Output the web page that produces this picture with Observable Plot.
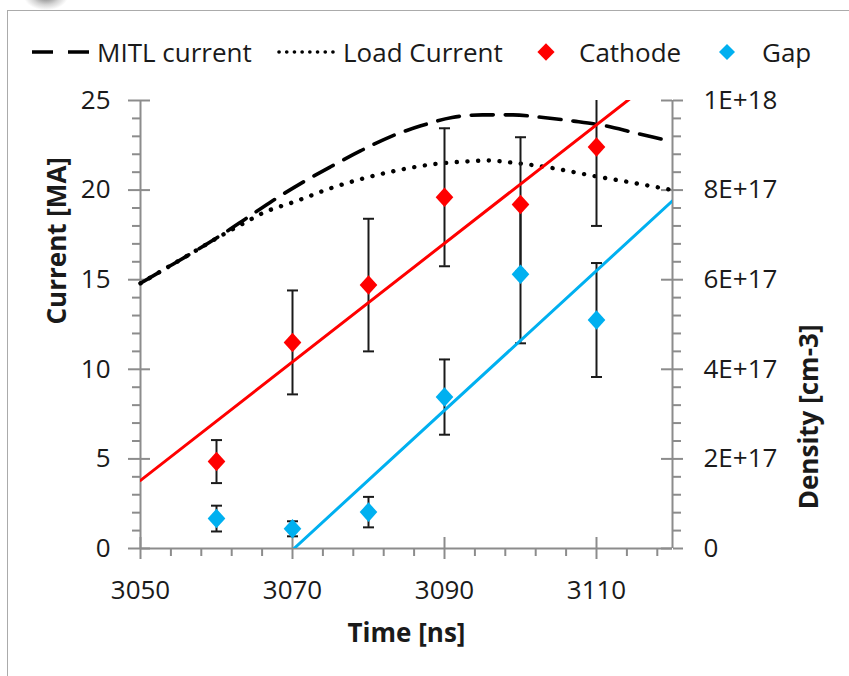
<!DOCTYPE html>
<html>
<head>
<meta charset="utf-8">
<script src="https://cdn.jsdelivr.net/npm/d3@7"></script>
<script src="https://cdn.jsdelivr.net/npm/@observablehq/plot@0.6"></script>
<style>
  html, body { margin: 0; padding: 0; background: #fff; }
  #wrap { position: relative; width: 849px; height: 676px; overflow: hidden; font-family: "Open Sans", sans-serif; }
  #frame { position: absolute; left: 7px; top: 10px; width: 900px; height: 720px; border-left: 1px solid #ababab; border-top: 1px solid #ababab; }
  #blob { position: absolute; left: 24px; top: -14px; width: 44px; height: 24px; background: radial-gradient(ellipse at 50% 40%, rgba(90,90,90,0.85) 0%, rgba(150,150,150,0.4) 45%, rgba(255,255,255,0) 72%); }
  #legend { position: absolute; left: 0; top: 0; width: 849px; height: 80px; }
  .lg { position: absolute; top: 34px; font-size: 26px; line-height: 36px; color: #1a1a1a; white-space: nowrap; }
  #legsym { position: absolute; left: 0; top: 0; }
  #chart { position: absolute; left: 0; top: 80px; }
</style>
</head>
<body>
<div id="wrap">
  <div id="blob"></div>
  <div id="frame"></div>
  <div id="legend"></div>
  <div id="chart"></div>
</div>
<script>
// ---- data ----
const legendLabels = ["MITL current", "Load Current", "Cathode", "Gap"];

const mitlTime = [3050, 3053, 3057, 3061, 3064, 3067, 3071, 3075, 3079, 3083, 3087, 3091, 3095, 3099, 3103, 3107, 3111, 3115, 3120];
const mitlCurrent = [14.8, 15.55, 16.55, 17.6, 18.45, 19.3, 20.35, 21.3, 22.2, 23.0, 23.6, 24.05, 24.2, 24.2, 24.05, 23.85, 23.6, 23.2, 22.7];

const loadTime = [3050, 3053, 3057, 3061, 3064, 3066, 3070.6, 3075, 3079.3, 3083.8, 3088.6, 3093, 3095.6, 3099.6, 3103.9, 3109.5, 3114.9, 3120];
const loadCurrent = [14.8, 15.55, 16.55, 17.55, 18.25, 18.7, 19.4, 20.1, 20.65, 21.1, 21.45, 21.6, 21.65, 21.5, 21.25, 20.8, 20.4, 20.0];

const pointTime = [3060, 3070, 3080, 3090, 3100, 3110];
const cathodeValue = [4.85, 11.5, 14.7, 19.6, 19.2, 22.4];
const cathodeError = [1.2, 2.9, 3.7, 3.85, 3.75, 4.4];
const gapValue = [1.67, 1.1, 2.03, 8.45, 15.3, 12.75];
const gapError = [0.72, 0.42, 0.85, 2.1, 3.85, 3.18];

const cathodeFitTime = [3050, 3120];
const cathodeFitValue = [3.8, 26.95];
const gapFitTime = [3070.2, 3120];
const gapFitValue = [0, 19.4];

const xMajor = [3050, 3070, 3090, 3110];
const xMinor = [3054, 3058, 3062, 3066, 3074, 3078, 3082, 3086, 3094, 3098, 3102, 3106, 3114, 3118];
const yMajor = [0, 5, 10, 15, 20, 25];
const yMinor = [1, 2, 3, 4, 6, 7, 8, 9, 11, 12, 13, 14, 16, 17, 18, 19, 21, 22, 23, 24];
const densityLabels = ["0", "2E+17", "4E+17", "6E+17", "8E+17", "1E+18"];

const xTitle = "Time [ns]";
const yTitle = "Current [MA]";
const y2Title = "Density [cm-3]";

// ---- tables ----
const mitl = mitlTime.map((t, i) => ({t, v: mitlCurrent[i]}));
const load = loadTime.map((t, i) => ({t, v: loadCurrent[i]}));
const cathode = pointTime.map((t, i) => ({t, v: cathodeValue[i], lo: cathodeValue[i] - cathodeError[i], hi: cathodeValue[i] + cathodeError[i]}));
const gap = pointTime.map((t, i) => ({t, v: gapValue[i], lo: gapValue[i] - gapError[i], hi: gapValue[i] + gapError[i]}));
const cathodeFit = cathodeFitTime.map((t, i) => ({t, v: cathodeFitValue[i]}));
const gapFit = gapFitTime.map((t, i) => ({t, v: gapFitValue[i]}));
const caps = [...cathode, ...gap].flatMap(d => [{t: d.t, v: d.lo}, {t: d.t, v: d.hi}]);

const RED = "#ff0000", BLUE = "#00b0f0", AXIS = "#8c8c8c", TXT = "#1a1a1a";

const diamond = {
  draw(ctx, size) {
    const r = Math.sqrt(size / Math.PI);
    ctx.moveTo(0, -r * 1.05); ctx.lineTo(r * 0.95, 0); ctx.lineTo(0, r * 1.05); ctx.lineTo(-r * 0.95, 0); ctx.closePath();
  }
};
const capSym = {
  draw(ctx, size) {
    const r = Math.sqrt(size / Math.PI);
    ctx.moveTo(-r, 0); ctx.lineTo(r, 0);
  }
};

// ---- legend ----
const legend = document.getElementById("legend");
const ns = "http://www.w3.org/2000/svg";
const ls = document.createElementNS(ns, "svg");
ls.setAttribute("width", 849); ls.setAttribute("height", 80); ls.setAttribute("id", "legsym");
ls.innerHTML = `
  <line x1="32" y1="52" x2="90" y2="52" stroke="#000" stroke-width="3.5" stroke-dasharray="21 15"/>
  <line x1="279" y1="52" x2="333" y2="52" stroke="#000" stroke-width="3.6" stroke-linecap="round" stroke-dasharray="0.1 7.6"/>
  <path d="M546,43.2L554.6,52L546,60.8L537.4,52Z" fill="${RED}"/>
  <path d="M727,44L735,52L727,60L719,52Z" fill="${BLUE}"/>`;
legend.appendChild(ls);
const legendX = [97, 343, 579, 762];
legendLabels.forEach((s, i) => {
  const sp = document.createElement("span");
  sp.className = "lg"; sp.style.left = legendX[i] + "px"; sp.textContent = s;
  legend.appendChild(sp);
});

// ---- chart ----
const font = "'Open Sans', sans-serif";
const chart = Plot.plot({
  width: 849,
  height: 596,
  marginLeft: 140,
  marginRight: 177,
  marginTop: 20,
  marginBottom: 128,
  style: {fontFamily: font, fontSize: "26px", color: TXT, background: "transparent", overflow: "visible"},
  x: {domain: [3050, 3120], label: null},
  y: {domain: [0, 25], label: null},
  marks: [
    // axes lines
    Plot.ruleX([3050, 3120], {stroke: AXIS, strokeWidth: 2}),
    Plot.ruleY([0], {stroke: AXIS, strokeWidth: 2}),
    // minor ticks
    Plot.axisX({ticks: xMinor, tickSize: 8, tickFormat: () => "", stroke: AXIS, strokeWidth: 2, label: null}),
    Plot.axisY({ticks: yMinor, tickSize: 8, tickFormat: () => "", stroke: AXIS, strokeWidth: 2, label: null}),
    Plot.axisY({anchor: "right", ticks: yMinor, tickSize: 8, tickFormat: () => "", stroke: AXIS, strokeWidth: 2, label: null}),
    // major ticks + labels
    Plot.axisX({ticks: xMajor, tickSize: 11, tickPadding: 21, tickFormat: d => String(d), stroke: AXIS, fill: TXT, strokeWidth: 2, fontSize: 26, label: null}),
    Plot.axisY({ticks: yMajor, tickSize: 12, tickPadding: 18, tickFormat: d => String(d), stroke: AXIS, fill: TXT, strokeWidth: 2, fontSize: 26, label: null}),
    Plot.axisY({anchor: "right", ticks: yMajor, tickSize: 10, tickPadding: 21, tickFormat: d => densityLabels[yMajor.indexOf(d)], stroke: AXIS, fill: TXT, strokeWidth: 2, fontSize: 26, label: null}),
    // inward halves of major ticks
    Plot.tickX(xMajor, {x: d => d, insetTop: 437, stroke: AXIS, strokeWidth: 2}),
    Plot.tickY(yMajor, {y: d => d, insetRight: 522, stroke: AXIS, strokeWidth: 2}),
    Plot.tickY(yMajor, {y: d => d, insetLeft: 521, stroke: AXIS, strokeWidth: 2}),
    // current curves
    Plot.line(mitl, {x: "t", y: "v", stroke: "#000", strokeWidth: 3.6, strokeDasharray: "22 12", curve: "monotone-x"}),
    Plot.line(load, {x: "t", y: "v", stroke: "#000", strokeWidth: 4.4, strokeLinecap: "round", strokeDasharray: "0.1 10.6", curve: "monotone-x"}),
    // error bars
    Plot.ruleX(cathode, {x: "t", y1: "lo", y2: "hi", stroke: TXT, strokeWidth: 2, clip: true}),
    Plot.ruleX(gap, {x: "t", y1: "lo", y2: "hi", stroke: TXT, strokeWidth: 2, clip: true}),
    Plot.dot(caps, {x: "t", y: "v", symbol: capSym, r: 5.5, fill: "none", stroke: TXT, strokeWidth: 2, clip: true}),
    // trend lines
    Plot.line(cathodeFit, {x: "t", y: "v", stroke: RED, strokeWidth: 3, clip: true}),
    Plot.line(gapFit, {x: "t", y: "v", stroke: BLUE, strokeWidth: 3, clip: true}),
    // points
    Plot.dot(cathode, {x: "t", y: "v", symbol: diamond, r: 9.3, fill: RED, stroke: "none"}),
    Plot.dot(gap, {x: "t", y: "v", symbol: diamond, r: 9.3, fill: BLUE, stroke: "none"}),
    // titles
    Plot.text([xTitle], {text: d => d, frameAnchor: "bottom", dy: 93, fontWeight: "bold", fontSize: 26, fill: TXT}),
    Plot.text([yTitle], {text: d => d, frameAnchor: "left", dx: -83, rotate: -90, fontWeight: "bold", fontSize: 26, fill: TXT}),
    Plot.text([y2Title], {text: d => d, frameAnchor: "right", dx: 137, rotate: -90, fontWeight: "bold", fontSize: 26, fill: TXT})
  ]
});
document.getElementById("chart").appendChild(chart);
</script>
</body>
</html>
